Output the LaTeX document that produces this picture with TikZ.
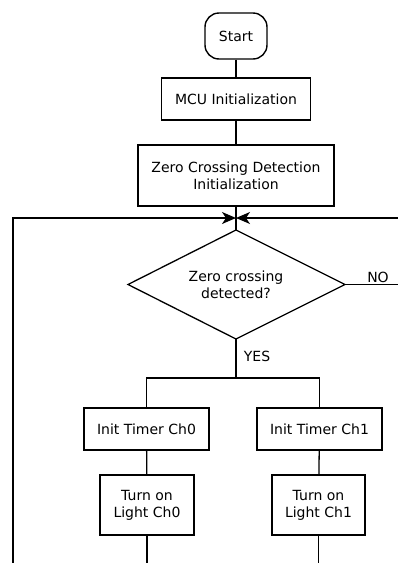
\documentclass[tikz,border=0pt]{standalone}
\usepackage{fontspec}
\setmainfont{DejaVu Sans}
\usetikzlibrary{shapes.geometric,arrows.meta}
\begin{document}
\begin{tikzpicture}[x=1pt,y=-1pt,
  every node/.style={font=\fontsize{14}{17}\selectfont},
  box/.style={draw,line width=1.4pt,inner sep=0pt,align=center},
  decision/.style={inner sep=0pt,align=center},
  conn/.style={line width=1.3pt},
  arr/.style={line width=1.3pt,-{Stealth[length=14pt,width=12pt,inset=4pt]}},
  lbl/.style={inner sep=0pt}]
\useasboundingbox (0,0) rectangle (398,563);
\node[box,rounded corners=14pt,minimum width=62pt,minimum height=46pt] (start) at (236,36) {Start};
\node[box,minimum width=149pt,minimum height=42pt] (mcu) at (236,99) {MCU Initialization};
\node[box,minimum width=196pt,minimum height=61pt] (zcd) at (236,175.5) {Zero Crossing Detection\\Initialization};
\node[decision] (dec) at (236,284.5) {Zero crossing\\detected?};
\coordinate (dtop) at (236,230);
\coordinate (dbot) at (236,339);
\coordinate (dleft) at (128,284.5);
\coordinate (dright) at (345,284.5);
\draw[line width=1.3pt,line join=miter] (dtop) -- (dright) -- (dbot) -- (dleft) -- cycle;
\node[box,minimum width=125pt,minimum height=42pt] (t0) at (146.5,429) {Init Timer Ch0};
\node[box,minimum width=125pt,minimum height=42pt] (t1) at (319.5,429) {Init Timer Ch1};
\node[box,minimum width=94pt,minimum height=60pt] (l0) at (147,505) {Turn on\\Light Ch0};
\node[box,minimum width=93pt,minimum height=60pt] (l1) at (318.5,505) {Turn on\\Light Ch1};
\node[lbl] (no) at (378,277) {NO};
\node[lbl] (yes) at (257,356) {YES};
\coordinate (merge) at (236,218);
\coordinate (split) at (236,378);
\coordinate (bl) at (13,563);
\coordinate (rt) at (398,218);
\coordinate (bot) at (0,563);
\draw[conn] (start) -- (mcu);
\draw[conn] (mcu) -- (zcd);
\draw[conn] (zcd.south) -- (dtop);
\draw[arr] (bl) |- (merge);
\draw[arr] (rt) -- (merge);
\draw[conn] (dright) -- (dright -| rt);
\draw[conn] (dbot) -- (split);
\draw[conn] (t0.north) -- (t0.north |- split) -- (t1.north |- split) -- (t1.north);
\draw[conn] (t0) -- (l0);
\draw[conn] (t1) -- (l1);
\draw[conn] (l0.south) -- (l0.south |- bot);
\draw[conn] (l1.south) -- (l1.south |- bot);
\end{tikzpicture}
\end{document}
